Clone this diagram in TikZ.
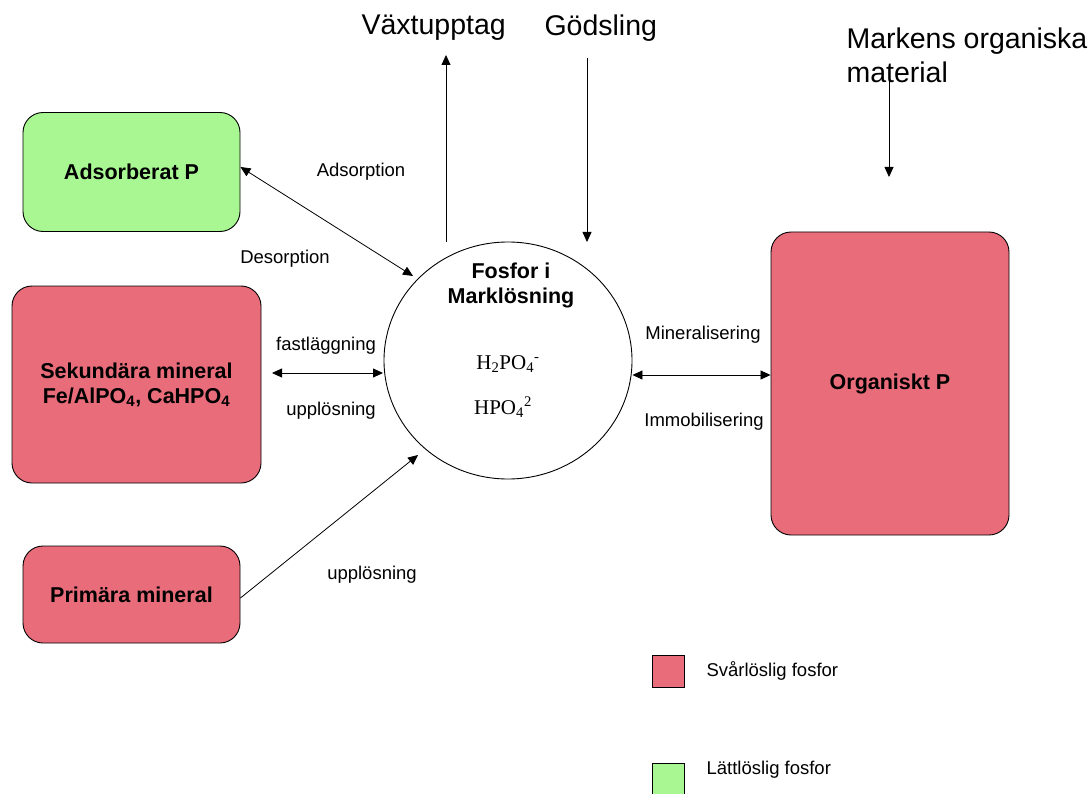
\documentclass[tikz,border=0pt]{standalone}
\usepackage{fontspec}
\setmainfont{Liberation Sans}
\newfontfamily\formfont{Liberation Serif}
\usetikzlibrary{arrows.meta,shapes.geometric}
\definecolor{svarP}{HTML}{E96C7B}
\definecolor{lattP}{HTML}{A8F792}

\begin{document}
\begin{tikzpicture}[x=1pt,y=-1pt,
  pool/.style={draw, line width=0.9pt, rounded corners=20pt, align=center,
    font=\bfseries\fontsize{21.5}{25}\selectfont},
  flow/.style={-{Triangle[length=10pt,width=9pt]}, line width=0.8pt},
  twoway/.style={{Triangle[length=10pt,width=9pt]}-{Triangle[length=10pt,width=9pt]}, line width=0.8pt},
  lbl/.style={font=\fontsize{18.5}{21}\selectfont},
  source/.style={font=\fontsize{28.5}{34}\selectfont, align=left},
  key/.style={draw, line width=1pt, minimum size=32pt, inner sep=0pt}]
  \useasboundingbox (0,0) rectangle (1091,794);
  % Pools of phosphorus
  \node[pool, fill=lattP, minimum width=217pt, minimum height=119pt] (ads) at (131.5,172) {Adsorberat P};
  \node[pool, fill=svarP, minimum width=249pt, minimum height=197pt] (sek) at (136.5,384.5)
    {Sekundära mineral\\Fe/AlPO\textsubscript{4}, CaHPO\textsubscript{4}};
  \node[pool, fill=svarP, minimum width=217pt, minimum height=97pt] (prim) at (131.5,594.5) {Primära mineral};
  \node[pool, fill=svarP, minimum width=238pt, minimum height=303pt] (org) at (890,383.5) {Organiskt P};
  % Soil solution
  \node[draw, ellipse, line width=0.9pt, minimum width=248pt, minimum height=237pt] (sol) at (508,360.5) {};
  \node[font=\bfseries\fontsize{21.5}{25}\selectfont, align=center] (soltitle) at (511,285) {Fosfor i\\Marklösning};
  \node[font=\formfont\fontsize{21}{24}\selectfont] (ionA) at (508,364) {H\textsubscript{2}PO\textsubscript{4}\textsuperscript{-}};
  \node[font=\formfont\fontsize{21}{24}\selectfont] (ionB) at (503,407) {HPO\textsubscript{4}\textsuperscript{2}};
  % Inputs and outputs at the top
  \node[source, anchor=west] (vaxt) at (358,28) {Växtupptag};
  \node[source, anchor=west] (gods) at (541,28) {Gödsling};
  \node[source, anchor=west] (mark) at (843,55) {Markens organiska\\material};
  \coordinate (vaxtend) at (446,55);
  \coordinate (vaxtstart) at (446,242);
  \coordinate (godsstart) at (587,58);
  \coordinate (godsend) at (587,242);
  \coordinate (markstart) at (889,78);
  \coordinate (markend) at (889,177);
  \draw[flow] (vaxtstart) -- (vaxtend);
  \draw[flow] (godsstart) -- (godsend);
  \draw[flow] (markstart) -- (markend);
  % Exchanges with the solution
  \draw[twoway] (ads.east |- 0,167) -- (413,276);
  \draw[twoway] (272,373) -- (383,373);
  \draw[twoway] (sol.east |- 0,375) -- (org.west |- 0,375);
  \draw[flow] (prim.east |- 0,598) -- (418,455);
  \node[lbl] (adsl) at (361,172) {Adsorption};
  \node[lbl] (desl) at (285,259) {Desorption};
  \node[lbl] (fastl) at (326,346) {fastläggning};
  \node[lbl] (upp1) at (331,411) {upplösning};
  \node[lbl] (minl) at (703,335) {Mineralisering};
  \node[lbl] (imml) at (704,422) {Immobilisering};
  \node[lbl] (upp2) at (372,575) {upplösning};
  % Legend
  \node[key, fill=svarP] (keysvar) at (668,671) {};
  \node[key, fill=lattP] (keylatt) at (668,779) {};
  \node[lbl, anchor=west] (keysvarl) at (703,671) {Svårlöslig fosfor};
  \node[lbl, anchor=west] (keylattl) at (703,770) {Lättlöslig fosfor};
\end{tikzpicture}
\end{document}
